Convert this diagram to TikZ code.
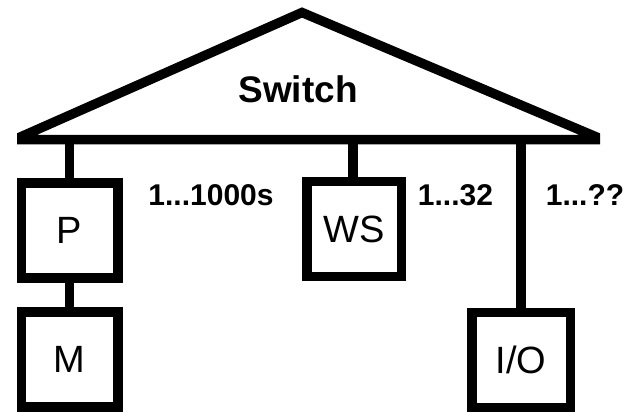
\documentclass[tikz,border=0pt]{standalone}
\usepackage{fontspec}
\setmainfont{Liberation Sans}
\begin{document}
\begin{tikzpicture}[x=1pt,y=-1pt,
  thick line/.style={line width=9.5pt},
  unitbox/.style={draw,thick line,rectangle,minimum width=96.5pt,minimum height=95pt,
    inner sep=0pt,font=\fontsize{38}{44}\selectfont},
  countlabel/.style={anchor=base,inner sep=0pt,font=\fontsize{30}{36}\selectfont\bfseries},
  link/.style={thick line}]
\useasboundingbox (0,0) rectangle (628,412);

% switch: triangle cut off square at both ends of its base
\begin{scope}
  \clip (17,0) rectangle (600,160);
  \draw[thick line,line join=miter] (14.7,139.5) -- (302,12.5) -- (602.4,139.5) -- cycle;
\end{scope}
\node[anchor=base,inner sep=0pt,font=\fontsize{37}{44}\selectfont\bfseries] (switch) at (298,102) {Switch};

% taps on the switch base
\coordinate (tapP)  at (69.5,139.5);
\coordinate (tapWS) at (353,139.5);
\coordinate (tapIO) at (521,139.5);

% units
\node[unitbox] (P)  at (69.5,230.5) {P};
\node[unitbox] (M)  at (69.5,359.5) {M};
\node[unitbox,minimum width=94.5pt] (WS) at (354,229) {WS};
\node[unitbox,minimum width=98.5pt] (IO) at (521,360) {I/O};

% connections
\draw[link] (tapP) -- (P.north);
\draw[link] (P.south) -- (M.north);
\draw[link] (tapWS) -- (WS.north -| tapWS);
\draw[link] (tapIO) -- (IO.north);

% counts
\node[countlabel] (nP)  at (211,205) {1...1000s};
\node[countlabel] (nWS) at (455.5,205) {1...32};
\node[countlabel] (nIO) at (585,205) {1...??};
\end{tikzpicture}
\end{document}
